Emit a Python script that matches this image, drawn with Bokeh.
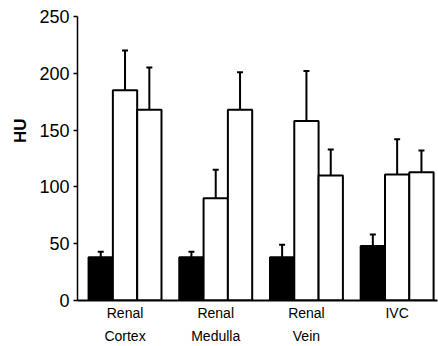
from bokeh.plotting import figure
from bokeh.models import (ColumnDataSource, Range1d, FixedTicker, Whisker, TeeHead,
                          LinearAxis, Title)
from bokeh.embed import file_html
from bokeh.resources import INLINE

categories = ["Renal\nCortex", "Renal\nMedulla", "Renal\nVein", "IVC"]
black_vals = [38, 38, 38, 48]
black_err = [5, 5, 11, 10]
white1_vals = [185, 90, 158, 111]
white1_err = [35, 25, 44, 31]
white2_vals = [168, 168, 110, 113]
white2_err = [37, 33, 23, 19]
y_ticks = [0, 50, 100, 150, 200, 250]

BW = 0.268
idx = list(range(len(categories)))
line1 = {i: c.split("\n")[0] for i, c in zip(idx, categories)}
line2 = {i: c.split("\n")[1] for i, c in zip(idx, categories) if "\n" in c}

p = figure(width=438, height=346, output_backend="svg", toolbar_location=None,
           x_range=Range1d(-0.524, 3.445), y_range=Range1d(0, 250),
           x_axis_location=None,
           min_border_left=77, min_border_right=1, min_border_top=16, min_border_bottom=44)
p.outline_line_color = None
p.xgrid.visible = False
p.ygrid.visible = False
p.background_fill_color = "white"
p.border_fill_color = "white"

series = [(black_vals, black_err, -BW, "black"),
          (white1_vals, white1_err, 0.0, "white"),
          (white2_vals, white2_err, BW, "white")]

for vals, errs, off, col in series:
    src = ColumnDataSource(dict(
        x=[i + off for i in idx], top=vals,
        upper=[v + e for v, e in zip(vals, errs)],
        lower=[v - e for v, e in zip(vals, errs)]))
    p.vbar(x="x", top="top", bottom=0, width=BW, source=src,
           fill_color=col, line_color="black", line_width=2)
    w = Whisker(source=src, base="x", upper="upper", lower="lower",
                line_color="black", line_width=2,
                upper_head=TeeHead(size=6, line_width=2, line_color="black"),
                lower_head=TeeHead(size=6, line_width=2, line_color="black"))
    p.add_layout(w)

# Y axis
p.yaxis.ticker = FixedTicker(ticks=y_ticks)
p.yaxis.minor_tick_line_color = None
p.yaxis.major_tick_in = 0
p.yaxis.major_tick_out = 4
p.yaxis.major_tick_line_width = 1.5
p.yaxis.axis_line_width = 1.5
p.yaxis.major_label_standoff = 4
p.yaxis.major_label_text_font = "Liberation Sans"
p.yaxis.major_label_text_font_size = "18px"
p.yaxis.major_label_text_color = "black"

def cat_axis(ticks, overrides, show_line):
    ax = LinearAxis(ticker=FixedTicker(ticks=ticks), major_label_overrides=overrides)
    ax.minor_tick_line_color = None
    ax.major_tick_line_color = None
    ax.major_tick_in = 0
    ax.major_tick_out = 0
    ax.axis_line_width = 2
    if not show_line:
        ax.axis_line_color = None
    ax.major_label_standoff = 4
    ax.major_label_text_font = "Liberation Sans"
    ax.major_label_text_font_size = "14px"
    ax.major_label_text_color = "black"
    return ax

p.add_layout(cat_axis(idx, line1, True), "below")
p.add_layout(cat_axis(sorted(line2), line2, False), "below")

hu = Title(text="HU", align="right", offset=102, standoff=14,
           text_font="Liberation Sans", text_font_size="17px", text_font_style="bold",
           text_color="black")
p.add_layout(hu, "left")

open("out.html", "w").write(file_html(p, INLINE))
